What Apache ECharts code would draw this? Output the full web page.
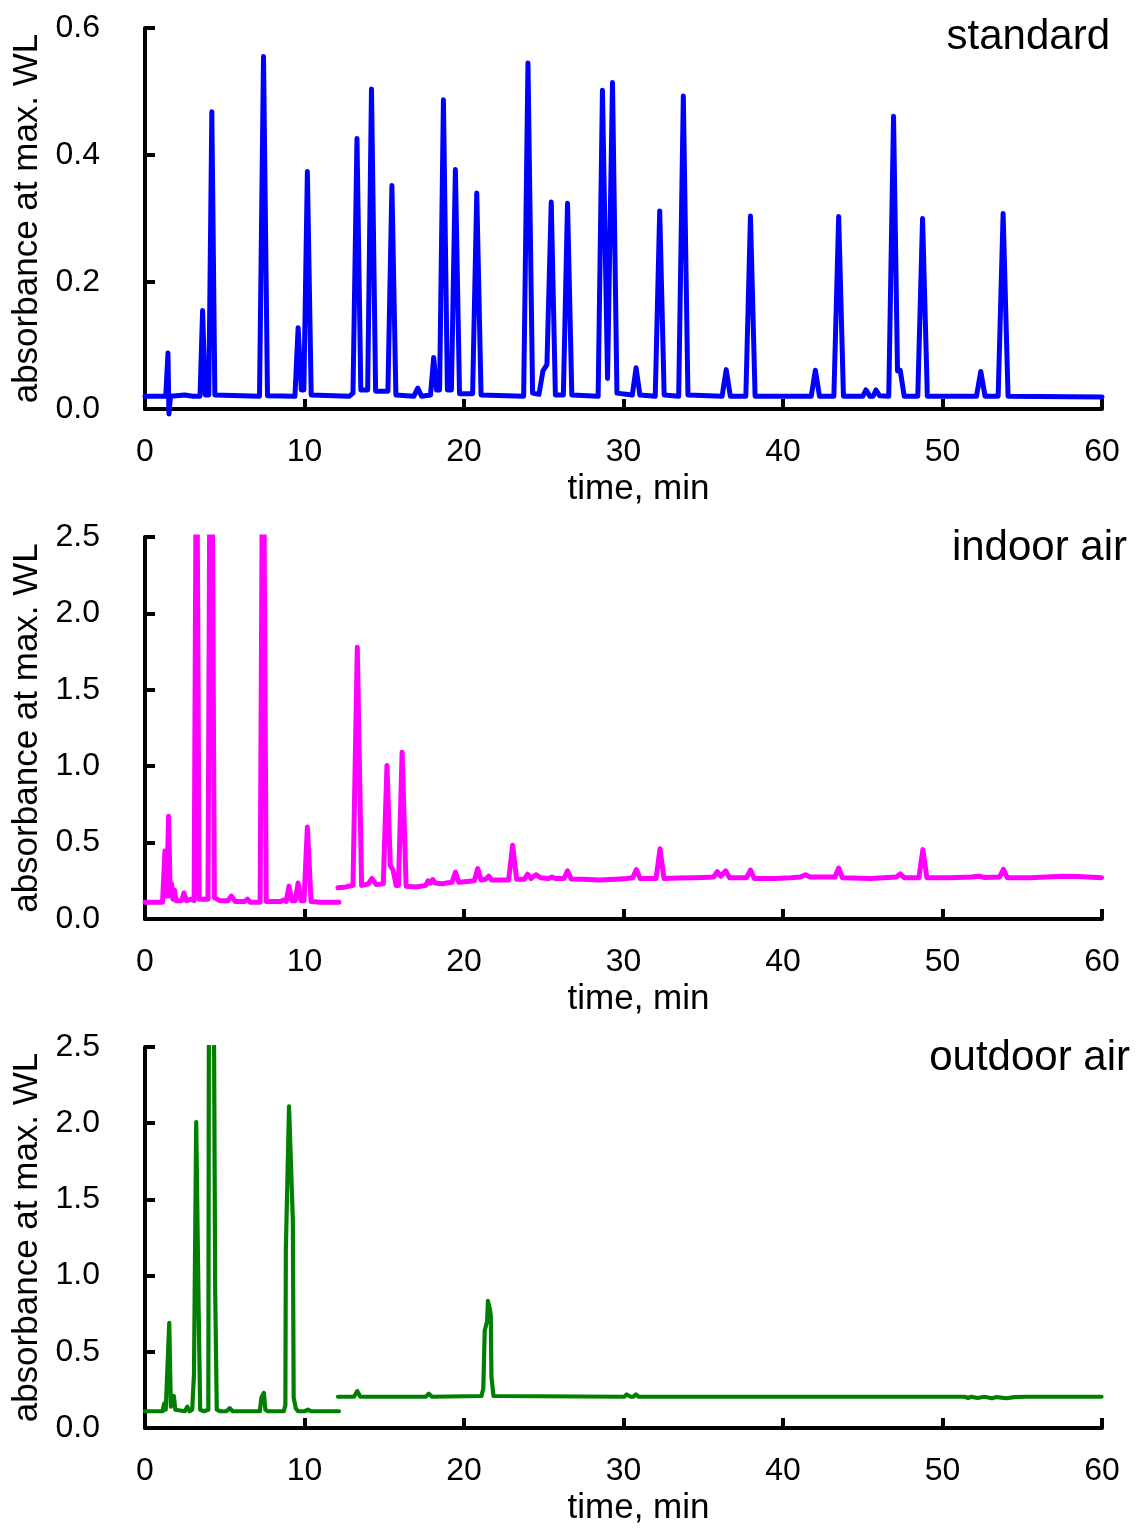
<!DOCTYPE html>
<html>
<head>
<meta charset="utf-8">
<script src="https://cdn.jsdelivr.net/npm/echarts@6/dist/echarts.min.js"></script>
<style>
  html, body { margin: 0; padding: 0; background: #fff; }
  #chart { width: 1137px; height: 1530px; }
</style>
</head>
<body>
<div id="chart"></div>
<script>
// ---------------------------------------------------------------------------
// Data: [time (min), absorbance]
// ---------------------------------------------------------------------------

const panelLabels = ['standard', 'indoor air', 'outdoor air'];
const xTicks = { min: 0, max: 60, interval: 10 };

const standardTrace = [
  [0, 0.02], [1.3, 0.02], [1.44, 0.088], [1.5, -0.008], [1.6, 0.02], [2.5, 0.022], [3.0, 0.02],
  [3.45, 0.02], [3.61, 0.155], [3.78, 0.022], [4.0, 0.022], [4.19, 0.468], [4.38, 0.022],
  [7.18, 0.02], [7.43, 0.555], [7.68, 0.021],
  [9.4, 0.02], [9.6, 0.128], [9.8, 0.03], [9.96, 0.03], [10.18, 0.374], [10.42, 0.022],
  [12.8, 0.02], [13.04, 0.025], [13.29, 0.426], [13.53, 0.03], [13.96, 0.03], [14.2, 0.504],
  [14.46, 0.028], [15.23, 0.028], [15.48, 0.352], [15.73, 0.022],
  [16.85, 0.02], [17.1, 0.033], [17.35, 0.02],
  [17.9, 0.022], [18.1, 0.081], [18.28, 0.03], [18.47, 0.03], [18.71, 0.487], [18.96, 0.03],
  [19.21, 0.03], [19.46, 0.377], [19.72, 0.024], [20.54, 0.024], [20.8, 0.34], [21.07, 0.022],
  [23.74, 0.02], [24.01, 0.545], [24.3, 0.025], [24.7, 0.023], [24.95, 0.06], [25.2, 0.07],
  [25.47, 0.326], [25.73, 0.022], [26.23, 0.022], [26.49, 0.324], [26.76, 0.022],
  [28.41, 0.02], [28.68, 0.502], [29.0, 0.048], [29.31, 0.514], [29.59, 0.025],
  [30.55, 0.022], [30.79, 0.065], [31.03, 0.022],
  [31.99, 0.02], [32.27, 0.312], [32.55, 0.022], [33.46, 0.02], [33.75, 0.493], [34.04, 0.022],
  [36.18, 0.02], [36.44, 0.062], [36.7, 0.02], [37.67, 0.02], [37.96, 0.304], [38.25, 0.02],
  [41.77, 0.02], [42.03, 0.061], [42.29, 0.02], [43.19, 0.02], [43.49, 0.303], [43.79, 0.02],
  [45.0, 0.02], [45.2, 0.03], [45.45, 0.02], [45.65, 0.02], [45.83, 0.03], [46.05, 0.021],
  [46.63, 0.02], [46.93, 0.461], [47.18, 0.06], [47.35, 0.061], [47.6, 0.02],
  [48.45, 0.02], [48.75, 0.3], [49.05, 0.02],
  [52.13, 0.02], [52.4, 0.059], [52.67, 0.02], [53.49, 0.02], [53.8, 0.308], [54.11, 0.02],
  [60, 0.019]
];

const indoorEarly = [
  [0, 0.11], [1.1, 0.11], [1.25, 0.445], [1.36, 0.15], [1.48, 0.672], [1.58, 0.15],
  [1.66, 0.23], [1.75, 0.13], [1.84, 0.19], [1.95, 0.12], [2.3, 0.12], [2.44, 0.17],
  [2.6, 0.12], [2.9, 0.13], [3.08, 0.12], [3.23, 3.5], [3.4, 0.13],
  [3.95, 0.13], [4.13, 4.5], [4.35, 0.14], [4.7, 0.12],
  [5.2, 0.12], [5.42, 0.15], [5.65, 0.115], [6.25, 0.115], [6.42, 0.13], [6.6, 0.11],
  [7.22, 0.11], [7.4, 3.8], [7.6, 0.115], [8.5, 0.115], [8.7, 0.125], [8.85, 0.115],
  [9.03, 0.215], [9.2, 0.12], [9.42, 0.12], [9.6, 0.236], [9.78, 0.12], [9.97, 0.12],
  [10.18, 0.602], [10.41, 0.115], [11.0, 0.11], [12.16, 0.11]
];

const indoorLate = [
  [12.1, 0.205], [12.6, 0.21], [13.04, 0.22], [13.31, 1.778], [13.58, 0.22], [14.0, 0.23],
  [14.23, 0.265], [14.5, 0.225], [14.94, 0.23], [15.17, 1.005], [15.38, 0.35], [15.55, 0.32],
  [15.75, 0.22], [15.89, 0.22], [16.12, 1.092], [16.37, 0.215], [17.0, 0.21], [17.6, 0.22],
  [17.75, 0.25], [17.9, 0.235], [18.04, 0.258], [18.2, 0.235], [18.6, 0.23], [18.9, 0.235],
  [19.25, 0.24], [19.46, 0.306], [19.67, 0.24], [20.2, 0.245], [20.65, 0.25], [20.86, 0.33],
  [21.07, 0.255], [21.35, 0.26], [21.55, 0.28], [21.75, 0.255], [22.8, 0.255], [23.05, 0.482],
  [23.3, 0.26], [23.78, 0.26], [23.99, 0.293], [24.2, 0.265], [24.51, 0.29], [24.8, 0.27],
  [25.3, 0.265], [25.51, 0.275], [25.75, 0.265], [26.27, 0.265], [26.49, 0.315], [26.72, 0.262],
  [27.5, 0.26], [28.5, 0.255], [29.5, 0.26], [30.2, 0.265], [30.58, 0.27], [30.81, 0.323],
  [31.05, 0.265], [32.04, 0.265], [32.29, 0.46], [32.54, 0.265], [33.5, 0.268], [34.5, 0.27],
  [35.0, 0.272], [35.65, 0.275], [35.88, 0.31], [36.1, 0.28], [36.4, 0.315], [36.65, 0.27],
  [37.72, 0.27], [37.96, 0.32], [38.2, 0.265], [39.5, 0.265], [40.5, 0.27], [41.1, 0.275],
  [41.41, 0.29], [41.7, 0.275], [42.3, 0.275], [43.26, 0.275], [43.49, 0.334], [43.72, 0.27],
  [45.5, 0.265], [47.1, 0.275], [47.35, 0.295], [47.6, 0.27], [48.52, 0.27], [48.77, 0.454],
  [49.02, 0.27], [50.5, 0.27], [51.8, 0.275], [52.3, 0.28], [52.6, 0.272], [53.58, 0.275],
  [53.82, 0.325], [54.06, 0.27], [55.5, 0.27], [56.5, 0.275], [57.5, 0.28], [58.5, 0.278],
  [59.97, 0.27]
];

const outdoorEarly = [
  [0, 0.11], [1.1, 0.11], [1.2, 0.16], [1.3, 0.12], [1.4, 0.13], [1.52, 0.69], [1.62, 0.14],
  [1.72, 0.13], [1.81, 0.21], [1.9, 0.12], [2.0, 0.11], [2.5, 0.11], [2.65, 0.14], [2.8, 0.11],
  [2.96, 0.12], [3.07, 0.35], [3.21, 2.007], [3.36, 0.8], [3.46, 0.12], [3.7, 0.11],
  [3.97, 0.12], [4.03, 4.5], [4.18, 6.0], [4.4, 0.9], [4.5, 0.12], [4.7, 0.11],
  [5.1, 0.11], [5.32, 0.13], [5.5, 0.11], [7.2, 0.11], [7.3, 0.2], [7.45, 0.23], [7.55, 0.12],
  [7.7, 0.11], [8.7, 0.11], [8.8, 0.15], [8.83, 1.17], [9.03, 2.11], [9.27, 1.36], [9.32, 0.2],
  [9.45, 0.13], [9.6, 0.11], [10.0, 0.11], [10.22, 0.12], [10.4, 0.11], [12.16, 0.11]
];

const outdoorLate = [
  [12.1, 0.205], [13.1, 0.205], [13.31, 0.242], [13.5, 0.205], [17.6, 0.205], [17.79, 0.225],
  [18.0, 0.205], [21.1, 0.21], [21.21, 0.26], [21.3, 0.64], [21.45, 0.7], [21.5, 0.834],
  [21.62, 0.78], [21.68, 0.74], [21.72, 0.336], [21.85, 0.21], [21.95, 0.205],
  [30.05, 0.205], [30.2, 0.22], [30.45, 0.205], [30.62, 0.205], [30.77, 0.22], [30.95, 0.205],
  [51.4, 0.205], [51.6, 0.197], [51.8, 0.205], [52.2, 0.197], [52.6, 0.205], [53.1, 0.195],
  [53.4, 0.203], [54.0, 0.195], [54.5, 0.203], [55.2, 0.205], [59.97, 0.205]
];

// ---------------------------------------------------------------------------
// Layout / styles
// ---------------------------------------------------------------------------

const FONT = '"Liberation Sans", Arial, sans-serif';
const grids = [
  { left: 145, width: 957, top: 28, height: 381 },
  { left: 145, width: 957, top: 537, height: 382 },
  { left: 145, width: 957, top: 1047, height: 381 }
];
const yRanges = [
  { min: 0, max: 0.6, interval: 0.2 },
  { min: 0, max: 2.5, interval: 0.5 },
  { min: 0, max: 2.5, interval: 0.5 }
];

const axisLine = { show: true, lineStyle: { color: '#000', width: 4 } };
const axisTick = { show: true, inside: true, length: 10, lineStyle: { color: '#000', width: 4 } };

function makeX(i) {
  return {
    gridIndex: i, type: 'value',
    min: xTicks.min, max: xTicks.max, interval: xTicks.interval,
    axisLine, axisTick,
    splitLine: { show: false },
    axisLabel: { color: '#000', fontSize: 32, fontFamily: FONT, margin: 27 },
    name: 'time, min', nameLocation: 'middle', nameGap: 63,
    nameTextStyle: { color: '#000', fontSize: 35, fontFamily: FONT, padding: [0, 0, 0, 30] }
  };
}

function makeY(i) {
  return {
    gridIndex: i, type: 'value',
    min: yRanges[i].min, max: yRanges[i].max, interval: yRanges[i].interval,
    axisLine, axisTick,
    splitLine: { show: false },
    axisLabel: { color: '#000', fontSize: 32, fontFamily: FONT, margin: 45, formatter: v => v.toFixed(1) },
    name: 'absorbance at max. WL', nameLocation: 'middle', nameRotate: 90, nameGap: 100,
    nameTextStyle: { color: '#000', fontSize: 35, fontFamily: FONT }
  };
}

function trace(data, idx, color, width, clip) {
  return {
    type: 'line', xAxisIndex: idx, yAxisIndex: idx, data,
    showSymbol: false, clip, animation: false,
    lineStyle: { color, width, join: 'round', cap: 'round' }
  };
}

const labelPos = [[1110, 37], [1127, 548], [1130, 1058]];

const chart = echarts.init(document.getElementById('chart'));
chart.setOption({
  backgroundColor: '#fff',
  animation: false,
  grid: grids,
  xAxis: [0, 1, 2].map(makeX),
  yAxis: [0, 1, 2].map(makeY),
  series: [
    trace(standardTrace, 0, '#0000ff', 5, false),
    trace(indoorEarly, 1, '#ff00ff', 5, true),
    trace(indoorLate, 1, '#ff00ff', 5, true),
    trace(outdoorEarly, 2, '#008000', 4.2, true),
    trace(outdoorLate, 2, '#008000', 4.2, true)
  ],
  graphic: panelLabels.map((t, i) => ({
    type: 'text', x: labelPos[i][0], y: labelPos[i][1],
    style: { text: t, fill: '#000', font: '42px ' + FONT, textAlign: 'right', textVerticalAlign: 'middle' }
  }))
});
</script>
</body>
</html>
